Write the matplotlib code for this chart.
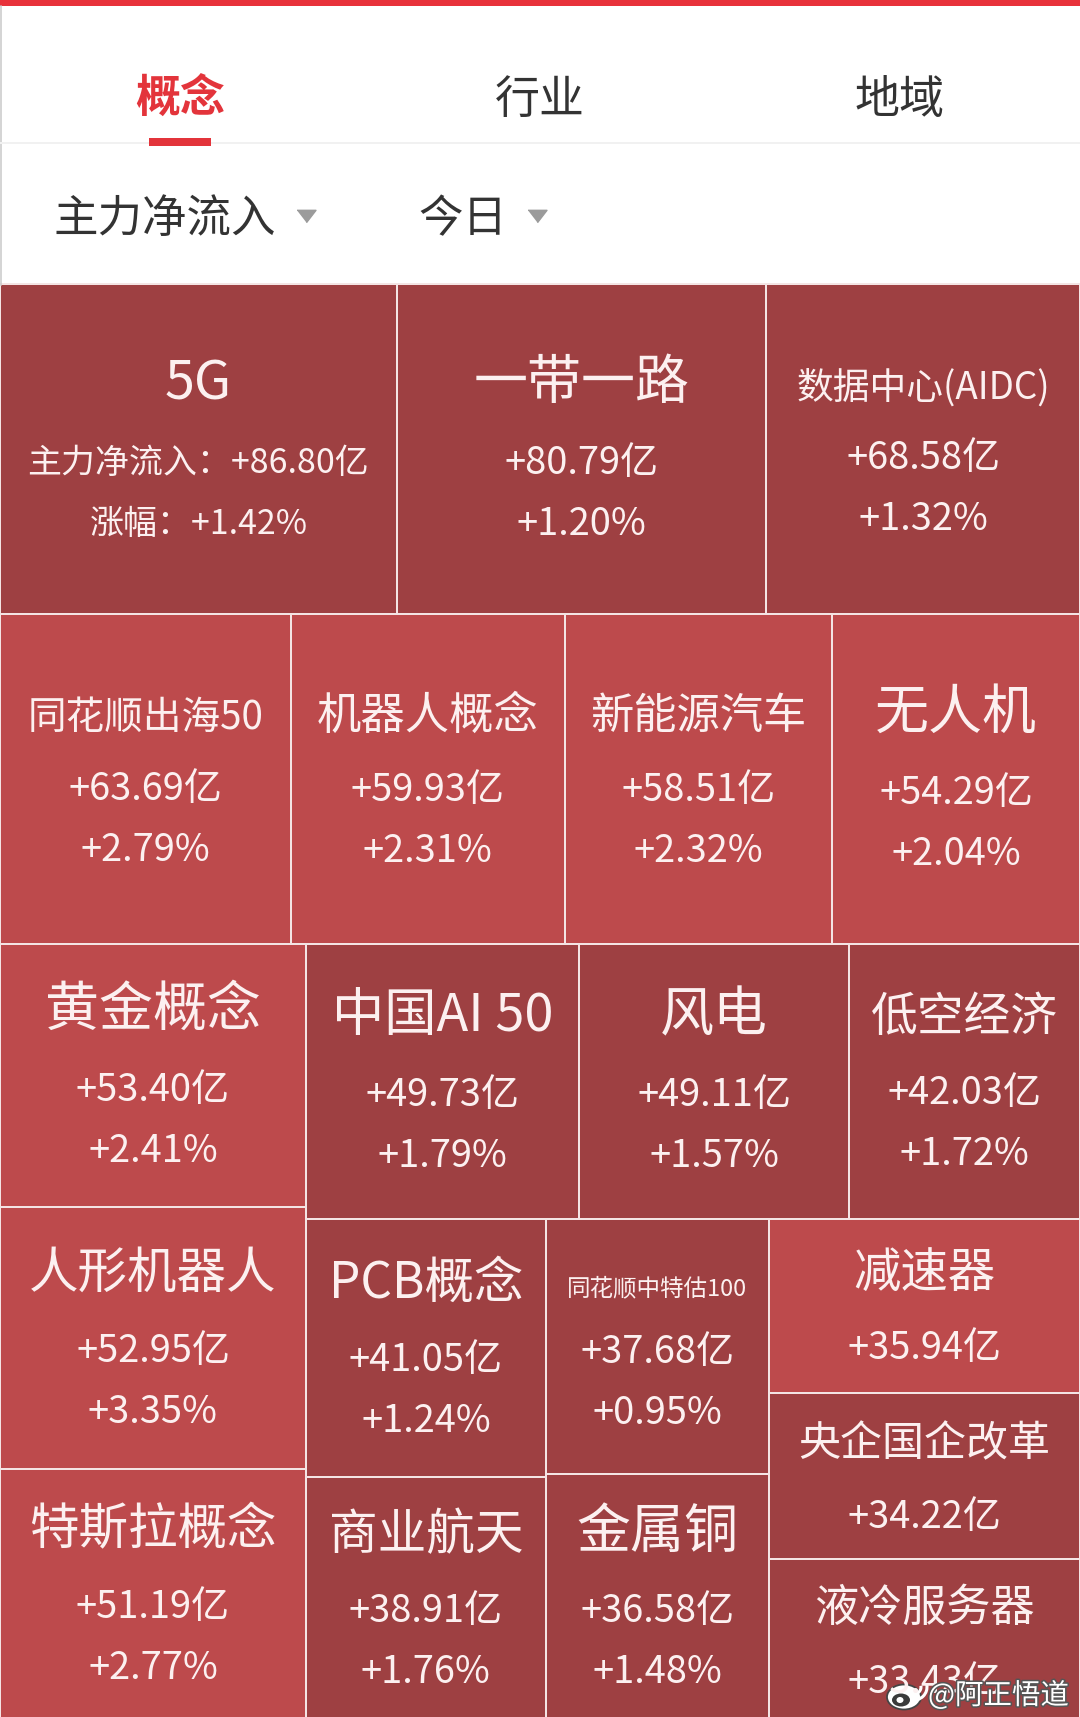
import matplotlib
matplotlib.use("Agg")
import matplotlib.pyplot as plt
from matplotlib.patches import Rectangle, Ellipse, Arc
import matplotlib.patheffects as pe

plt.rcParams['font.family'] = ['Noto Sans CJK SC', 'DejaVu Sans']

# ---------------- data ----------------
tabs = ['概念', '行业', '地域']
active_tab = 0
filters = ['主力净流入', '今日']

names = ['5G', '一带一路', '数据中心(AIDC)', '同花顺出海50', '机器人概念', '新能源汽车',
         '无人机', '黄金概念', '人形机器人', '特斯拉概念', '中国AI 50', '风电', '低空经济',
         'PCB概念', '商业航天', '同花顺中特估100', '金属铜', '减速器', '央企国企改革', '液冷服务器']
inflow = [86.80, 80.79, 68.58, 63.69, 59.93, 58.51, 54.29, 53.40, 52.95, 51.19, 49.73,
          49.11, 42.03, 41.05, 38.91, 37.68, 36.58, 35.94, 34.22, 33.43]
# last three are not printed in the picture (cells too small)
change = [1.42, 1.20, 1.32, 2.79, 2.31, 2.32, 2.04, 2.41, 3.35, 2.77, 1.79, 1.57, 1.72,
          1.24, 1.76, 0.95, 1.48, 2.10, 1.10, 1.30]
watermark = '@阿正悟道'

# ---------------- style ----------------
W, H = 1080, 1717
DPI = 100
PX = 72.0 / DPI
DARK = '#9e4042'
LIGHT = '#bd4a4c'
TXT = '#fcf0f0'
RED = '#e3343b'

fig = plt.figure(figsize=(W / DPI, H / DPI), dpi=DPI)
fig.patch.set_facecolor('white')
ax = fig.add_axes([0, 0, 1, 1])
ax.set_xlim(0, W)
ax.set_ylim(H, 0)
ax.axis('off')
renderer = fig.canvas.get_renderer()

# ---------------- header ----------------
ax.add_patch(Rectangle((0, 0), W, 6, facecolor='#e8323b', edgecolor='none'))
ax.plot([0.8, 0.8], [6, 285], color='#c8c8c8', lw=1.5 * PX)
for i, t in enumerate(tabs):
    cx = (i + 0.5) * W / len(tabs)
    ax.text(cx, 100, t, fontsize=45 * PX, ha='center', va='center',
            color=RED if i == active_tab else '#333333',
            fontweight='bold' if i == active_tab else 'normal')
ax.plot([0, W], [143.5, 143.5], color='#f1f1f1', lw=2 * PX)
ucx = (active_tab + 0.5) * W / len(tabs)
ax.plot([ucx - 31, ucx + 31], [142, 142], color=RED, lw=8 * PX, solid_capstyle='butt')

fx = [53, 418]
tri = [(-1, 0.65), (1, 0.65), (0, -0.65)]
for x0, f in zip(fx, filters):
    t = ax.text(x0, 219, f, fontsize=44.5 * PX, ha='left', va='center', color='#333333')
    bb = t.get_window_extent(renderer)
    ax.plot([bb.x1 + 30], [216], marker=tri, markersize=19 * PX, color='#9b9b9b',
            linestyle='none')


# ---------------- squarified treemap layout ----------------
def layout_row(sizes, x, y, dx, dy):
    width = sum(sizes) / dy
    rects = []
    for s in sizes:
        rects.append((x, y, width, s / width))
        y += s / width
    return rects


def layout_col(sizes, x, y, dx, dy):
    height = sum(sizes) / dx
    rects = []
    for s in sizes:
        rects.append((x, y, s / height, height))
        x += s / height
    return rects


def layout(sizes, x, y, dx, dy):
    return layout_row(sizes, x, y, dx, dy) if dx >= dy else layout_col(sizes, x, y, dx, dy)


def leftover(sizes, x, y, dx, dy):
    if dx >= dy:
        w = sum(sizes) / dy
        return x + w, y, dx - w, dy
    h = sum(sizes) / dx
    return x, y + h, dx, dy - h


def worst(sizes, x, y, dx, dy):
    return max(max(r[2] / r[3], r[3] / r[2]) for r in layout(sizes, x, y, dx, dy))


def squarify(sizes, x, y, dx, dy):
    if not sizes:
        return []
    if len(sizes) == 1:
        return layout(sizes, x, y, dx, dy)
    i = 1
    while i < len(sizes) and worst(sizes[:i], x, y, dx, dy) >= worst(sizes[:i + 1], x, y, dx, dy):
        i += 1
    cur, rem = sizes[:i], sizes[i:]
    lx, ly, ldx, ldy = leftover(cur, x, y, dx, dy)
    return layout(cur, x, y, dx, dy) + squarify(rem, lx, ly, ldx, ldy)


TX, TY, TW, TH = 0, 284, W, 1437
total = sum(inflow)
areas = [v * TW * TH / total for v in inflow]
rects = squarify(areas, TX, TY, TW, TH)


def sized_text(s, max_px, avail, weight='normal'):
    t = ax.text(0, 0, s, fontsize=max_px * PX, ha='center', va='center', color=TXT,
                fontweight=weight)
    w = t.get_window_extent(renderer).width
    px = max_px
    if w > avail:
        px = max_px * avail / w
        t.set_fontsize(px * PX)
    return t, px


VALUE_PX = 38
TEXT_SHIFT = 5
for i, ((x, y, dx, dy), nm, v, c) in enumerate(zip(rects, names, inflow, change)):
    ax.add_patch(Rectangle((x, y), dx, dy, facecolor=LIGHT if c >= 2 else DARK,
                           edgecolor='#f4e4e4', lw=2 * PX))
    name_t, npx = sized_text(nm, min(54, 0.272 * dy), 0.81 * dx)
    vs = f'+{v:.2f}亿'
    ps = f'+{c:.2f}%'
    if i == 0:
        vs = '主力净流入：' + vs
        ps = '涨幅：' + ps
    val_t, vpx = sized_text(vs, VALUE_PX, 0.86 * dx, 'medium')
    lines = [name_t, val_t]
    offs = [0, 0.55 * npx + 50]
    if dy >= 200:
        pct_t, _ = sized_text(ps, vpx, 0.86 * dx, 'medium')
        pct_t.set_fontsize(vpx * PX)
        lines.append(pct_t)
        offs.append(offs[-1] + 61)
    cy = y + dy / 2 + TEXT_SHIFT
    top = cy - offs[-1] / 2
    for t, o in zip(lines, offs):
        t.set_position((x + dx / 2, top + o))

# ---------------- watermark ----------------
ax.text(928, 1696, watermark, fontsize=28.5 * PX, ha='left', va='center', color='white',
        path_effects=[pe.withStroke(linewidth=2.2, foreground='#555555')])
ax.add_patch(Ellipse((904, 1697), 34, 25, facecolor='white', edgecolor='#444444', lw=1.3))
ax.add_patch(Ellipse((901, 1700), 18, 13, facecolor='#3a3a3a', edgecolor='none'))
ax.add_patch(Ellipse((900, 1700), 7, 6, facecolor='white', edgecolor='none'))
ax.add_patch(Arc((914, 1687), 14, 14, theta1=-10, theta2=100, color='white', lw=2.2))
ax.add_patch(Arc((914, 1687), 26, 26, theta1=-10, theta2=100, color='white', lw=2.2))

fig.savefig('out.png', dpi=DPI, facecolor='white')
